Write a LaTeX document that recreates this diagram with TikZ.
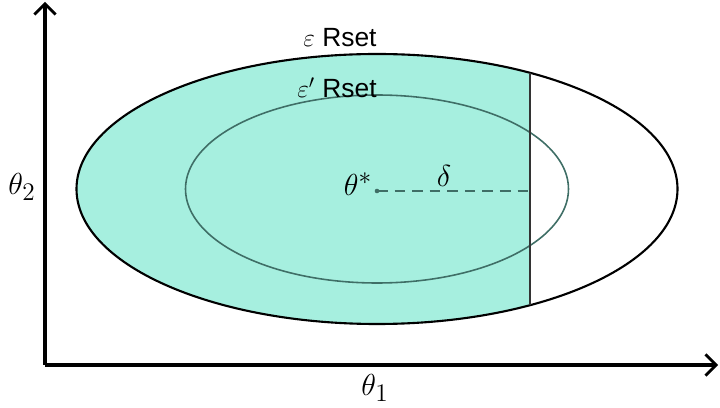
\documentclass[tikz,border=0pt]{standalone}
\usepackage{fontspec}
\setsansfont{Liberation Sans}
\usetikzlibrary{arrows.meta}
\definecolor{rsetfill}{HTML}{A6EFDF}
\definecolor{innerline}{HTML}{3F6E66}
\begin{document}
\begin{tikzpicture}[x=0.02cm, y=-0.02cm,
  axis/.style={-{Straight Barb[length=6pt,width=12pt,line width=1.6pt]}, line width=1.8pt},
  lbl/.style={font=\sffamily\fontsize{15}{18}\selectfont, inner sep=1pt},
  mlbl/.style={font=\fontsize{19}{22}\selectfont, inner sep=1pt},
  outer/.style={line width=1.2pt},
  inner/.style={line width=0.9pt, draw=innerline},
  gap/.style={dash pattern=on 6pt off 4pt, line width=0.9pt, draw=innerline}
]
  \useasboundingbox (0,0) rectangle (720,408);

  % Axes
  \coordinate (origin) at (45,365);
  \coordinate (ytop) at (45,2);
  \coordinate (xend) at (718,365);
  \draw[axis] (origin) -- (ytop);
  \draw[axis] (origin) -- (xend);
  \node[mlbl] (t1) at (375,388) {$\theta_1$};
  \node[mlbl] (t2) at (22,187) {$\theta_2$};

  % Rsets
  \coordinate (c) at (377,189);
  \coordinate (cuttop) at (530,73);
  \coordinate (cutbot) at (530,305);
  \coordinate (cut) at (530,191);
  \begin{scope}
    \clip (0,0) rectangle (530,408);
    \fill[rsetfill] (c) ellipse [x radius=300.5, y radius=135];
  \end{scope}
  \draw[outer] (c) ellipse [x radius=300.5, y radius=135];
  \draw[inner] (c) ellipse [x radius=191.5, y radius=94];
  \draw[outer, draw=black!80] (cuttop) -- (cutbot);

  \node[lbl] (eps) at (340,38) {$\varepsilon$ Rset};
  \node[lbl] (epsp) at (337,88) {$\varepsilon'$ Rset};

  % Center and distance
  \coordinate (star) at (377,191);
  \fill[innerline] (star) circle (1.3pt);
  \draw[gap] (star) -- (cut);
  \node[mlbl] (theta) at (358,184) {$\theta^{*}$};
  \node[mlbl] (delta) at (444,176) {$\delta$};
\end{tikzpicture}
\end{document}
